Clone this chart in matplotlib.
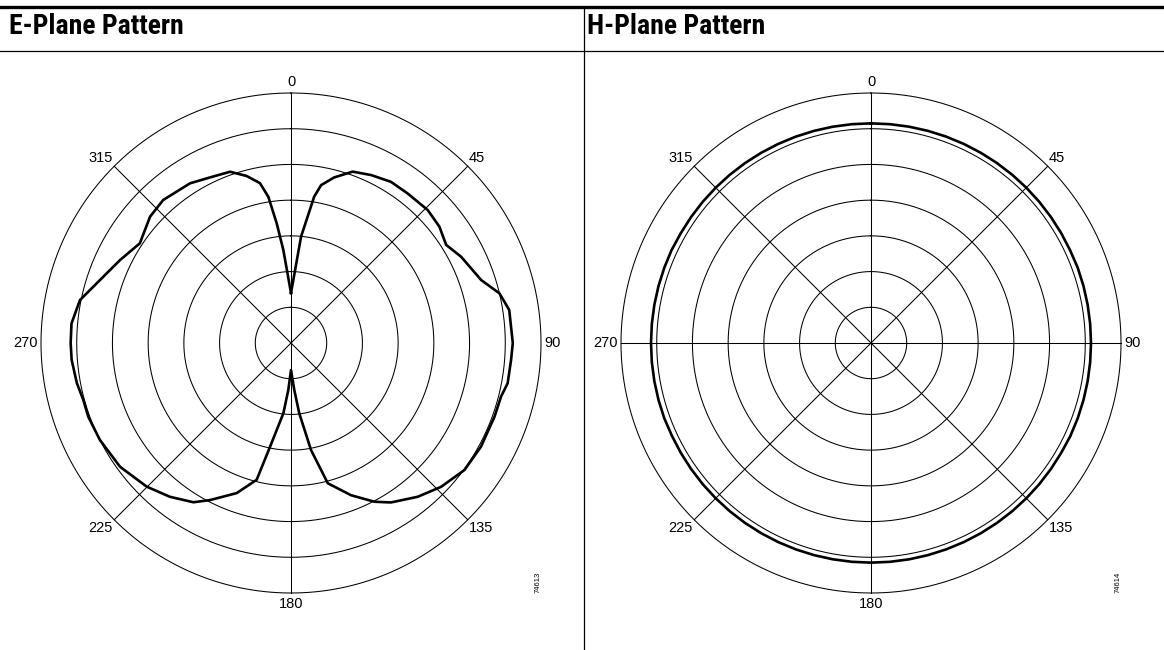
import numpy as np
import matplotlib
matplotlib.use("Agg")
import matplotlib.pyplot as plt

# E-plane pattern (angle in degrees, radius in ring units, 7 = outer ring)
e_theta = [0, 5.4, 9.0, 10.8, 14.6, 19.8, 25.5, 31.8, 37.9, 45.8, 51.9, 57.7, 63.1,
           71.7, 76.6, 81.4, 90, 94.4, 100.5, 104.3, 109.9, 118.6, 126.2, 133.8,
           140.5, 147.9, 152.3, 158.5, 165.3, 169.4, 173.3, 176, 180,
           183.3, 186.2, 191.4, 194.1, 199.9, 207.3, 211.5, 218.2, 225.1, 234.1,
           243.1, 250, 254.7, 259.4, 265.6, 270, 275.1, 281.5, 287.1, 295.9,
           303.4, 311.9, 318.2, 327.7, 334, 340.4, 345.1, 349, 351.2, 353.2,
           355.3, 360]
e_r = [1.40, 2.99, 4.15, 4.50, 4.79, 5.10, 5.21, 5.31, 5.31, 5.34, 5.28, 5.14, 5.34,
       5.61, 6.00, 6.18, 6.21, 6.18, 6.17, 6.07, 6.06, 6.06, 6.02, 5.82,
       5.58, 5.27, 5.02, 4.58, 4.06, 3.05, 1.98, 1.32, 0.76,
       1.32, 1.98, 2.96, 3.95, 4.47, 4.95, 5.23, 5.48, 5.70, 5.91,
       6.00, 6.04, 6.03, 6.10, 6.16, 6.17, 6.17, 6.03, 5.69, 5.32,
       5.07, 5.30, 5.37, 5.29, 5.16, 5.09, 4.84, 4.56, 4.14, 3.37,
       2.61, 1.40]

# H-plane pattern, nearly omnidirectional (every 5 degrees)
h_theta = list(range(0, 361, 5))
h_r = [6.15, 6.15, 6.15, 6.15, 6.15, 6.15, 6.15, 6.15, 6.15, 6.15, 6.15, 6.15,
       6.15, 6.15, 6.16, 6.16, 6.16, 6.16, 6.16, 6.16, 6.16, 6.16, 6.16, 6.16,
       6.15, 6.15, 6.15, 6.15, 6.15, 6.15, 6.15, 6.15, 6.15, 6.15, 6.15, 6.15,
       6.15, 6.15, 6.15, 6.15, 6.15, 6.15, 6.15, 6.15, 6.15, 6.15, 6.15, 6.15,
       6.15, 6.15, 6.16, 6.16, 6.16, 6.16, 6.16, 6.16, 6.16, 6.16, 6.16, 6.16,
       6.15, 6.15, 6.15, 6.15, 6.15, 6.15, 6.15, 6.15, 6.15, 6.15, 6.15, 6.15,
       6.15]

titles = ["E-Plane Pattern", "H-Plane Pattern"]
fig_ids = ["74613", "74614"]
angle_labels = [0, 45, 90, 135, 180, 225, 270, 315]
rings = [1, 2, 3, 4, 5, 6, 7]

W, H = 1164, 650
fig = plt.figure(figsize=(W / 100, H / 100), dpi=100)
plt.rcParams['font.family'] = ['Liberation Sans', 'DejaVu Sans']
title_font = dict(fontsize=20, fontweight="bold", fontstretch="condensed",
                  family=['Roboto Condensed', 'Open Sans Condensed', 'Liberation Sans Narrow',
                          'DejaVu Sans'])

# header rules
fig.add_artist(plt.Line2D([0, 1], [1 - 6.5 / H, 1 - 6.5 / H], color="black", lw=2.4))
fig.add_artist(plt.Line2D([0, 1], [1 - 50.5 / H, 1 - 50.5 / H], color="black", lw=0.9))
fig.add_artist(plt.Line2D([583.5 / W, 583.5 / W], [0, 1 - 7 / H], color="black", lw=0.9))

fig.text(9 / W, 1 - 34 / H, titles[0], va="baseline", **title_font)
fig.text(587 / W, 1 - 34 / H, titles[1], va="baseline", **title_font)

full = np.linspace(0, 2 * np.pi, 721)
label_pos = {0: ("center", "bottom"), 45: ("left", "bottom"), 90: ("left", "center"),
             135: ("left", "top"), 180: ("center", "top"), 225: ("right", "top"),
             270: ("right", "center"), 315: ("right", "bottom")}


def draw_panel(cx, theta, r, spokes, fid_x, fid):
    ax = fig.add_axes([(cx - 250) / W, (H - 343 - 250) / H, 500 / W, 500 / H],
                      projection="polar")
    ax.set_theta_zero_location("N")
    ax.set_theta_direction(-1)
    ax.set_ylim(0, 7)
    ax.axis("off")
    for k in rings:
        ax.plot(full, np.full_like(full, k), color="black", lw=0.75, clip_on=False)
    for a in spokes:
        for b in (a, a + 180):
            ax.plot([np.radians(b), np.radians(b)], [0, 7], color="black", lw=0.75,
                    clip_on=False)
    ax.plot(np.radians(theta), r, color="black", lw=1.9, clip_on=False,
            solid_joinstyle="round")
    for a in angle_labels:
        ha, va = label_pos[a]
        rr = 7.1 if a % 90 == 0 else 7.05
        ax.text(np.radians(a), rr, str(a), ha=ha, va=va, fontsize=10.5)
    fig.text(fid_x / W, 1 - 582 / H, fid, rotation=90, fontsize=5.5, ha="center", va="center")
    return ax


draw_panel(291, e_theta, e_r, [0, 45, 135], 538, fig_ids[0])
draw_panel(871, h_theta, h_r, [0, 45, 90, 135], 1118, fig_ids[1])

fig.savefig("out.png", dpi=100)
